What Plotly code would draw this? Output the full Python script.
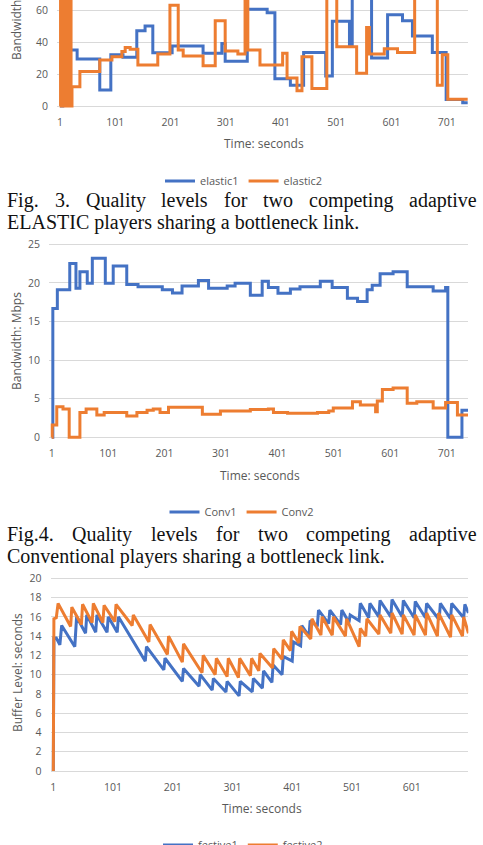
import plotly.graph_objects as go

W, H = 483, 845
BLUE = "#4472C4"
ORANGE = "#ED7D31"
GRID = "#D9D9D9"
TXT = "#595959"
SANS = "Open Sans"
SERIF = "Liberation Serif"

# ---------------- Fig. 3 data (step changes: time s, bandwidth Mbps) ----------------
elastic1_t = [1, 6, 32, 73, 93, 115, 140, 155, 169, 204, 260, 294, 300, 340, 376, 390, 418, 442,
              482, 494, 525, 530, 565, 594, 621, 639, 675, 700, 730, 739]
elastic1_v = [0, 35, 29.4, 10, 32, 30.5, 47, 50, 33.3, 37.5, 33, 39, 28, 60.4, 58.3, 17, 13, 33.5,
              18.75, 53, 38, 75, 30, 57, 53.3, 43.75, 33.5, 4, 2, 2]
elastic2_t = [1, 2, 3, 4, 5, 6, 7, 8, 9, 10, 11, 12, 13, 14, 15, 16, 17, 18, 19, 20, 21,
              22.7, 37, 73, 95, 113, 119, 128, 142, 178, 200, 215, 224, 260, 282, 300, 323, 336, 341,
              363, 404, 412, 430, 439, 457, 484, 502, 538, 556, 561, 588, 612, 643, 684, 693, 703, 739]
elastic2_v = [0, 85, 0, 85, 0, 85, 0, 85, 0, 85, 0, 85, 0, 85, 0, 85, 0, 85, 0, 85, 0,
              12, 21.5, 28.75, 30.8, 34, 36.5, 35.4, 25.6, 32.5, 63, 35, 31.25, 25.2, 53.3, 34.4, 32.5, 85, 35,
              25.6, 33, 17.5, 9.6, 30.8, 11, 85, 37, 20.4, 49, 32.5, 35.8, 33.5, 85, 13, 32, 4.2, 4.2]

# ---------------- Fig. 4 data ----------------
conv1_t = [1, 3, 11, 33, 44, 51, 64, 73, 96, 110, 134, 154, 197, 215, 232, 261, 279, 312, 326, 353,
           374, 385, 402, 424, 441, 477, 498, 525, 543, 560, 569, 583, 606, 631, 677, 699, 703, 728, 739]
conv1_v = [0, 16.7, 19.1, 22.5, 19.3, 21.45, 19.95, 23.2, 19.95, 22.2, 19.8, 19.5, 19.1, 18.7, 19.6,
           20.3, 19.3, 19.6, 19.95, 18.4, 20.2, 19.4, 18.65, 19.2, 19.5, 20.2, 19.4, 18.0, 17.6, 19.1,
           19.7, 21.2, 21.45, 19.5, 18.95, 19.4, 0, 3.5, 3.5]
conv2_t = [1, 2, 10, 21, 32, 51, 62, 81, 94, 134, 152, 170, 181, 193, 208, 268, 300, 353, 385, 394,
           419, 472, 492, 500, 534, 548, 575, 578, 587, 606, 631, 648, 677, 699, 720, 739]
conv2_v = [0, 1.6, 3.96, 3.67, 0, 3.2, 3.67, 2.9, 3.2, 2.76, 3.2, 3.5, 3.67, 3.2, 3.88, 3.0, 3.4, 3.6,
           3.67, 3.2, 3.1, 3.2, 3.4, 3.8, 4.6, 4.2, 3.3, 4.7, 6.2, 6.4, 4.4, 4.6, 3.8, 4.5, 2.9, 2.9]

# ---------------- Buffer level data ----------------
festive1_t = [1, 2, 6, 12, 15, 37, 40, 55, 57, 72, 74, 91, 93, 108, 110, 155, 157, 186, 188, 217, 219,
              245, 247, 267, 269, 290, 292, 312, 314, 334, 336, 351, 353, 367, 369, 384, 386, 401, 403,
              415, 417, 429, 431, 443, 445, 462, 464, 482, 484, 496, 498, 513, 515, 529, 531, 546, 548,
              566, 568, 585, 587, 605, 607, 624, 626, 647, 649, 666, 668, 688, 690, 696]
festive1_v = [0, 13.8, 13.8, 13.1, 15.1, 12.9, 16.0, 14.3, 16.2, 14.4, 16.2, 14.4, 16.0, 14.4, 16.0,
              11.4, 12.9, 10.5, 11.7, 9.3, 10.65, 8.8, 10.0, 8.4, 9.6, 8.2, 9.3, 7.8, 9.3, 8.2, 9.6,
              8.6, 10.4, 9.2, 11.0, 10.0, 11.9, 11.4, 13.4, 13.0, 15.1, 14.0, 15.6, 15.0, 16.7, 15.3,
              16.7, 15.2, 16.7, 15.4, 16.2, 15.6, 17.4, 15.9, 17.4, 16.0, 17.7, 16.0, 17.8, 16.0, 17.7,
              15.9, 17.6, 15.9, 17.4, 15.7, 17.4, 15.8, 17.4, 15.9, 17.3, 16.4]
festive2_t = [1, 2, 6, 9, 30, 32, 48, 50, 66, 68, 84, 86, 104, 106, 133, 135, 161, 163, 192, 194, 217,
              219, 250, 252, 272, 274, 292, 294, 311, 313, 331, 333, 345, 347, 368, 370, 384, 386, 398,
              400, 412, 414, 432, 434, 449, 451, 468, 470, 490, 492, 513, 515, 524, 526, 546, 548, 566,
              568, 585, 587, 605, 607, 624, 626, 644, 646, 666, 668, 686, 688, 696]
festive2_v = [0, 15.8, 15.9, 17.4, 15.0, 17.0, 15.2, 17.3, 15.4, 17.4, 15.4, 17.2, 15.5, 17.3, 15.1,
              16.2, 13.4, 15.2, 12.1, 14.0, 11.3, 13.2, 10.2, 12.0, 10.0, 11.7, 9.8, 11.7, 9.7, 11.7,
              9.9, 11.7, 10.4, 12.2, 10.7, 12.7, 11.6, 13.6, 12.5, 14.5, 13.3, 15.0, 13.7, 15.8, 14.1,
              16.0, 14.1, 16.0, 14.0, 15.8, 12.9, 14.8, 14.0, 15.8, 14.2, 16.2, 14.3, 16.4, 14.2, 16.2,
              14.1, 16.2, 14.1, 16.4, 14.0, 16.4, 13.9, 16.2, 14.0, 16.0, 14.3]

time_ticks_a = [1, 101, 201, 301, 401, 501, 601, 701]
time_ticks_c = [1, 101, 201, 301, 401, 501, 601]
bw_ticks_a = [0, 20, 40, 60]
bw_ticks_b = [0, 5, 10, 15, 20, 25]
buf_ticks = [0, 2, 4, 6, 8, 10, 12, 14, 16, 18, 20]


def xaxis_from(px_a, a, px_b, b, left, right):
    s = (px_b - px_a) / (b - a)
    return [left / W, right / W], [a + (left - px_a) / s, a + (right - px_a) / s]


def yaxis_from(py_a, a, py_b, b, top, bottom):
    s = (py_a - py_b) / (b - a)
    return [1 - bottom / H, 1 - top / H], [a - (bottom - py_a) / s, a + (py_a - top) / s]


fig = go.Figure()
fig.add_trace(go.Scatter(x=elastic1_t, y=elastic1_v, name="elastic1", mode="lines", line_shape="hv",
                         line=dict(color=BLUE, width=3), xaxis="x", yaxis="y", legend="legend"))
fig.add_trace(go.Scatter(x=elastic2_t, y=elastic2_v, name="elastic2", mode="lines", line_shape="hv",
                         line=dict(color=ORANGE, width=3), xaxis="x", yaxis="y", legend="legend"))
fig.add_trace(go.Scatter(x=conv1_t, y=conv1_v, name="Conv1", mode="lines", line_shape="hv",
                         line=dict(color=BLUE, width=3), xaxis="x2", yaxis="y2", legend="legend2"))
fig.add_trace(go.Scatter(x=conv2_t, y=conv2_v, name="Conv2", mode="lines", line_shape="hv",
                         line=dict(color=ORANGE, width=3), xaxis="x2", yaxis="y2", legend="legend2"))
fig.add_trace(go.Scatter(x=festive1_t, y=festive1_v, name="festive1", mode="lines",
                         line=dict(color=BLUE, width=3), xaxis="x3", yaxis="y3", legend="legend3"))
fig.add_trace(go.Scatter(x=festive2_t, y=festive2_v, name="festive2", mode="lines",
                         line=dict(color=ORANGE, width=3), xaxis="x3", yaxis="y3", legend="legend3"))

tickfont = dict(family=SANS, size=10.5, color=TXT)


def xa(dom, rng, ticks, anchor):
    return dict(domain=dom, range=rng, tickvals=ticks, ticktext=[str(t) for t in ticks],
                showgrid=False, zeroline=False, showline=False, ticks="", tickfont=tickfont,
                anchor=anchor, ticklabelstandoff=6, fixedrange=True)


def ya(dom, rng, ticks, anchor):
    return dict(domain=dom, range=rng, tickvals=ticks, ticktext=[str(t) for t in ticks],
                showgrid=True, gridcolor=GRID, gridwidth=1, zeroline=False, showline=False,
                ticks="", tickfont=tickfont, anchor=anchor, ticklabelstandoff=8, fixedrange=True)


x1d, x1r = xaxis_from(60, 1, 446.7, 701, 57, 468)
y1d, y1r = yaxis_from(106, 0, 10, 60, 0, 108)
x2d, x2r = xaxis_from(51.7, 1, 446.7, 701, 49, 468)
y2d, y2r = yaxis_from(437.3, 0, 244.3, 25, 242, 439.5)
x3d, x3r = xaxis_from(53.3, 1, 411.7, 601, 50.5, 468.3)
y3d, y3r = yaxis_from(771, 0, 578.3, 20, 576, 773)

legfont = dict(family=SANS, size=11, color=TXT)


def leg(px_center, py_center):
    return dict(orientation="h", x=px_center / W, xanchor="center", y=1 - py_center / H,
                yanchor="middle", font=legfont, bgcolor="rgba(0,0,0,0)", itemwidth=30,
                tracegroupgap=0)


annotations = []


def ann(text, px, py, size, family=SANS, color=TXT, angle=0, xanchor="center"):
    annotations.append(dict(text=text, x=px / W, y=1 - py / H, xref="paper", yref="paper",
                            showarrow=False, textangle=angle, xanchor=xanchor, yanchor="middle",
                            font=dict(family=family, size=size, color=color)))


# axis titles
ann("Bandwidth: Mbps", 16, 11, 12, angle=-90)
ann("Bandwidth: Mbps", 16, 341, 12, angle=-90)
ann("Buffer Level: seconds", 17, 673, 12, angle=-90)
ann("Time: seconds", 264, 143, 12)
ann("Time: seconds", 260, 475, 12)
ann("Time: seconds", 262, 808, 12)

# captions (first lines justified word by word)
cap3_words = ["Fig.", "3.", "Quality", "levels", "for", "two", "competing", "adaptive"]
cap3_x = [5, 52.6, 83.5, 159.4, 222, 261.2, 307.1, 407.4]
cap4_words = ["Fig.4.", "Quality", "levels", "for", "two", "competing", "adaptive"]
cap4_x = [5, 70.2, 148.7, 213.9, 255.7, 304.2, 407.1]
for w, x in zip(cap3_words, cap3_x):
    ann(w, x, 200.5, 20, family=SERIF, color="#111111", xanchor="left")
ann("ELASTIC players sharing a bottleneck link.", 5, 222.5, 20, family=SERIF, color="#111111",
    xanchor="left")
for w, x in zip(cap4_words, cap4_x):
    ann(w, x, 534, 20, family=SERIF, color="#111111", xanchor="left")
ann("Conventional players sharing a bottleneck link.", 5, 556.5, 20, family=SERIF, color="#111111",
    xanchor="left")

fig.update_layout(
    width=W, height=H, template="none",
    margin=dict(l=0, r=0, t=0, b=0, pad=0, autoexpand=False),
    paper_bgcolor="white", plot_bgcolor="white",
    xaxis=xa(x1d, x1r, time_ticks_a, "y"),
    yaxis=ya(y1d, y1r, bw_ticks_a, "x"),
    xaxis2=xa(x2d, x2r, time_ticks_a, "y2"),
    yaxis2=ya(y2d, y2r, bw_ticks_b, "x2"),
    xaxis3=xa(x3d, x3r, time_ticks_c, "y3"),
    yaxis3=ya(y3d, y3r, buf_ticks, "x3"),
    legend=leg(244, 181),
    legend2=leg(242, 512),
    legend3=leg(243, 845),
    annotations=annotations,
    showlegend=True,
)

fig.write_html("out.html")
